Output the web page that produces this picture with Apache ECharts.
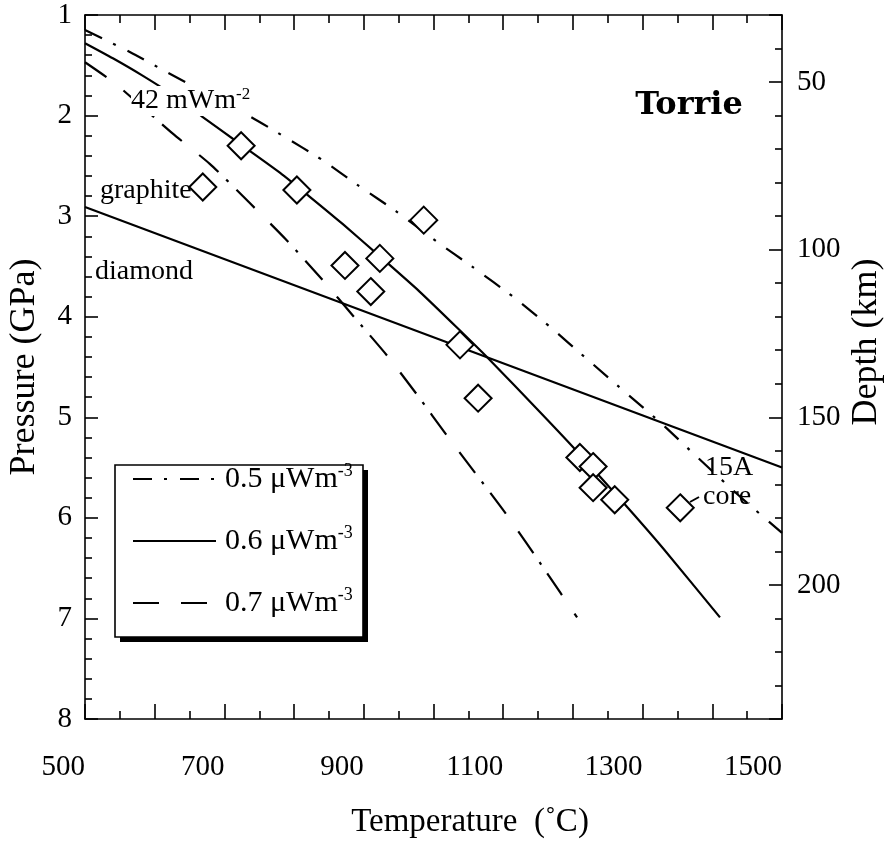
<!DOCTYPE html>
<html>
<head>
<meta charset="utf-8">
<script src="https://cdn.jsdelivr.net/npm/echarts@6/dist/echarts.min.js"></script>
<style>html,body{margin:0;padding:0;background:#fff}#chart{width:887px;height:846px}</style>
</head>
<body>
<div id="chart"></div>
<script>
// ---- data (temperature in °C, pressure in GPa) ----
const t05 = [500, 565, 618, 680, 737, 786, 840, 893, 946, 1004, 1057, 1114, 1167, 1220, 1280, 1330, 1379, 1440, 1500];
const p05 = [1.15, 1.37, 1.57, 1.80, 2.01, 2.21, 2.44, 2.70, 2.95, 3.25, 3.51, 3.80, 4.10, 4.42, 4.78, 5.08, 5.40, 5.79, 6.15];

const t06 = [500, 540, 582, 625, 668, 724, 780, 823, 870, 923, 980, 1034, 1078, 1153, 1206, 1275, 1329, 1411];
const p06 = [1.28, 1.43, 1.60, 1.79, 2.01, 2.29, 2.57, 2.81, 3.08, 3.40, 3.75, 4.11, 4.41, 4.95, 5.34, 5.87, 6.30, 6.99];

const t07 = [500, 543, 626, 679, 735, 788, 839, 887, 935, 978, 1019, 1104, 1160, 1206];
const p07 = [1.47, 1.68, 2.18, 2.48, 2.86, 3.23, 3.62, 4.01, 4.40, 4.79, 5.18, 5.96, 6.52, 6.99];

const tGD = [500, 1500];          // graphite–diamond boundary
const pGD = [2.91, 5.50];

const tSample = [669, 724, 804, 986, 873, 923, 910, 1038, 1064, 1210, 1229, 1229, 1260, 1354];
const pSample = [2.71, 2.30, 2.74, 3.04, 3.49, 3.42, 3.75, 4.28, 4.81, 5.40, 5.49, 5.70, 5.82, 5.90];

const seriesNames = ['0.5', '0.6', '0.7'];
const xLabelValues = [500, 700, 900, 1100, 1300, 1500];
const pLabelValues = [1, 2, 3, 4, 5, 6, 7, 8];
const depthLabelValues = [50, 100, 150, 200];

const zip = (a, b) => a.map((v, i) => [v, b[i]]);
const SERIF = "'Liberation Serif','Times New Roman',serif";

const chart = echarts.init(document.getElementById('chart'), null, {renderer: 'canvas'});

const axisLineStyle = {color: '#000', width: 1.6};
const tickStyle = {color: '#000', width: 1.6};

const option = {
  animation: false,
  backgroundColor: '#fff',
  grid: {left: 85, right: 105, top: 15, bottom: 127, containLabel: false, outerBoundsMode: 'none'},
  xAxis: [
    {
      type: 'value', position: 'bottom', min: 500, max: 1500, interval: 100,
      axisLine: {show: true, onZero: false, lineStyle: axisLineStyle},
      axisTick: {show: true, inside: true, length: 15, lineStyle: tickStyle},
      minorTick: {show: true, splitNumber: 2, length: 8, lineStyle: tickStyle},
      splitLine: {show: false},
      axisLabel: {
        show: true, margin: 34, align: 'right', color: '#000', fontFamily: SERIF, fontSize: 29,
        formatter: v => xLabelValues.includes(v) ? String(v) : ''
      }
    },
    {
      type: 'value', position: 'top', min: 500, max: 1500, interval: 100,
      axisLine: {show: true, onZero: false, lineStyle: axisLineStyle},
      axisTick: {show: true, inside: true, length: 15, lineStyle: tickStyle},
      minorTick: {show: true, splitNumber: 2, length: 8, lineStyle: tickStyle},
      splitLine: {show: false},
      axisLabel: {show: false}
    }
  ],
  yAxis: [
    {
      type: 'value', position: 'left', min: 1, max: 8, interval: 1, inverse: true,
      axisLine: {show: true, onZero: false, lineStyle: axisLineStyle},
      axisTick: {show: true, inside: true, length: 13, lineStyle: tickStyle},
      minorTick: {show: true, splitNumber: 5, length: 7, lineStyle: tickStyle},
      splitLine: {show: false},
      axisLabel: {
        show: true, margin: 13, color: '#000', fontFamily: SERIF, fontSize: 29,
        formatter: v => pLabelValues.includes(v) ? String(v) : ''
      }
    },
    {
      type: 'value', position: 'right', min: 30, max: 240, splitNumber: 4, inverse: true,
      axisLine: {show: true, onZero: false, lineStyle: axisLineStyle},
      axisTick: {show: true, inside: true, length: 13, lineStyle: tickStyle},
      minorTick: {show: true, splitNumber: 5, length: 7, lineStyle: tickStyle},
      splitLine: {show: false},
      axisLabel: {
        show: true, margin: 15, color: '#000', fontFamily: SERIF, fontSize: 29,
        showMinLabel: false, showMaxLabel: false,
        formatter: v => depthLabelValues.includes(v) ? String(v) : ''
      }
    }
  ],
  legend: {
    data: seriesNames,
    orient: 'vertical',
    left: 132, top: 462,
    padding: 0,
    itemGap: 30,
    itemWidth: 83,
    itemHeight: 12,
    selectedMode: false,
    itemStyle: {opacity: 0, borderWidth: 0},
    textStyle: {
      color: '#000', fontFamily: SERIF, fontSize: 30,
      rich: {
        a: {fontFamily: SERIF, fontSize: 30, lineHeight: 34, color: '#000', padding: [0, 0, 0, 4]},
        b: {fontFamily: SERIF, fontSize: 18, lineHeight: 22, color: '#000', verticalAlign: 'top'}
      }
    },
    formatter: name => '{a|' + name + ' \u03bcWm}{b|-3}'
  },
  series: [
    {
      name: '0.5', type: 'line', xAxisIndex: 0, yAxisIndex: 0, data: zip(t05, p05),
      symbol: 'none', smooth: 0.2, z: 3,
      lineStyle: {color: '#000', width: 2.2, type: [19, 12, 3, 13]},
      itemStyle: {color: '#000'}
    },
    {
      name: '0.6', type: 'line', xAxisIndex: 0, yAxisIndex: 0, data: zip(t06, p06),
      symbol: 'none', smooth: 0.2, z: 3,
      lineStyle: {color: '#000', width: 2.2, type: 'solid'},
      itemStyle: {color: '#000'}
    },
    {
      name: '0.7', type: 'line', xAxisIndex: 0, yAxisIndex: 0, data: zip(t07, p07),
      symbol: 'none', smooth: 0.2, z: 3,
      lineStyle: {color: '#000', width: 2.2, type: [26, 22, 26, 11, 3, 11]},
      itemStyle: {color: '#000'}
    },
    {
      name: 'graphite-diamond', type: 'line', xAxisIndex: 0, yAxisIndex: 0, data: zip(tGD, pGD),
      symbol: 'none', z: 3,
      lineStyle: {color: '#000', width: 2.2}
    },
    {
      name: 'samples', type: 'scatter', xAxisIndex: 0, yAxisIndex: 0, data: zip(tSample, pSample),
      symbol: 'diamond', symbolSize: 27, z: 5,
      itemStyle: {color: '#fff', borderColor: '#000', borderWidth: 2, opacity: 1}
    }
  ],
  graphic: [
    // legend frame with solid drop shadow
    {type: 'rect', z: 0, shape: {x: 120, y: 470, width: 248, height: 172}, style: {fill: '#000'}},
    {type: 'rect', z: 1, shape: {x: 115, y: 465, width: 248, height: 172}, style: {fill: '#fff', stroke: '#000', lineWidth: 1.6}},
    {type: 'text', x: 25, y: 367, rotation: Math.PI / 2, z: 100,
     style: {text: 'Pressure (GPa)', font: "36px 'Liberation Serif', serif", fill: '#000', align: 'center', verticalAlign: 'middle'}},
    {type: 'text', x: 867, y: 342, rotation: Math.PI / 2, z: 100,
     style: {text: 'Depth (km)', font: "36px 'Liberation Serif', serif", fill: '#000', align: 'center', verticalAlign: 'middle'}},
    {type: 'text', x: 470, y: 822, z: 100,
     style: {text: 'Temperature  (\u02daC)', font: "33px 'Liberation Serif', serif", fill: '#000', align: 'center', verticalAlign: 'middle'}},
    {type: 'text', x: 689, y: 106, z: 100,
     style: {text: 'Torrie', font: "bold 32px 'DejaVu Serif', serif", fill: '#000', align: 'center', verticalAlign: 'middle'}},
    {type: 'text', x: 131, y: 101, z: 100,
     style: {
       text: '{a|42 mWm}{b|-2}', align: 'left', verticalAlign: 'middle', backgroundColor: '#fff',
       rich: {
         a: {fontFamily: SERIF, fontSize: 28, lineHeight: 30, fill: '#000', color: '#000'},
         b: {fontFamily: SERIF, fontSize: 17, lineHeight: 20, fill: '#000', color: '#000', verticalAlign: 'top'}
       }
     }},
    {type: 'text', x: 100, y: 191, z: 100,
     style: {text: 'graphite', font: "28px 'Liberation Serif', serif", fill: '#000', align: 'left', verticalAlign: 'middle'}},
    {type: 'text', x: 95, y: 272, z: 100,
     style: {text: 'diamond', font: "28px 'Liberation Serif', serif", fill: '#000', align: 'left', verticalAlign: 'middle'}},
    {type: 'text', x: 705, y: 468, z: 100,
     style: {text: '15A', font: "28px 'Liberation Serif', serif", fill: '#000', align: 'left', verticalAlign: 'middle'}},
    {type: 'text', x: 703, y: 497, z: 100,
     style: {text: 'core', font: "28px 'Liberation Serif', serif", fill: '#000', align: 'left', verticalAlign: 'middle'}},
    {type: 'line', z: 100, shape: {x1: 690, y1: 502, x2: 699, y2: 497}, style: {stroke: '#000', lineWidth: 2}}
  ]
};

chart.setOption(option);
</script>
</body>
</html>
